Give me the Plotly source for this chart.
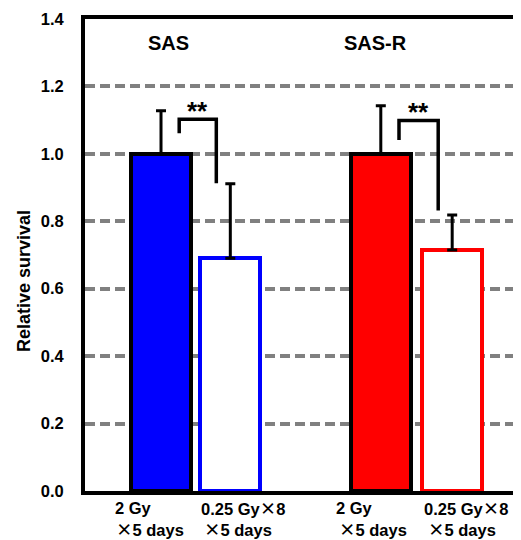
import plotly.graph_objects as go

# ---- data ----
groups = ["SAS", "SAS-R"]
treat_line1 = ["2 Gy", "0.25 Gy×8", "2 Gy", "0.25 Gy×8"]
treat_line2 = ["×5 days", "×5 days", "×5 days", "×5 days"]
survival = [1.0, 0.69, 1.0, 0.715]
sd_upper = [0.128, 0.221, 0.143, 0.104]
sig_labels = ["**", "**"]
sig_top = [1.103, 1.099]
sig_left_bottom = [1.061, 1.041]
sig_right_bottom = [0.913, 0.832]
yticks = [0.0, 0.2, 0.4, 0.6, 0.8, 1.0, 1.2, 1.4]
y_title = "Relative survival"

# ---- layout constants ----
pos = [1.0, 1.99, 4.14, 5.16]
fills = ["#0000FF", "#FFFFFF", "#FF0000", "#FFFFFF"]
edges = ["#000000", "#0000FF", "#000000", "#FF0000"]
FONT = "Liberation Sans, Arial, sans-serif"
XFONT = "Noto Sans CJK JP"

fig = go.Figure()
fig.add_trace(go.Bar(
    x=pos, y=survival, width=0.86,
    marker=dict(color=fills, line=dict(color=edges, width=4)),
    error_y=dict(type="data", symmetric=False, array=sd_upper,
                 arrayminus=[0] * len(sd_upper), color="black",
                 thickness=3, width=5),
    showlegend=False, hoverinfo="skip",
))

# significance brackets
for i in range(2):
    xl = pos[2 * i] + 0.26
    xr = pos[2 * i] + (0.79 if i == 0 else 0.82)
    fig.add_trace(go.Scatter(
        x=[xl, xl, xr, xr],
        y=[sig_left_bottom[i], sig_top[i], sig_top[i], sig_right_bottom[i]],
        mode="lines", line=dict(color="black", width=3.5),
        showlegend=False, hoverinfo="skip",
    ))
    fig.add_annotation(x=(xl + xr) / 2, y=sig_top[i], text="<b>" + sig_labels[i] + "</b>",
                       showarrow=False, yanchor="bottom", yshift=-9,
                       font=dict(family=FONT, size=26, color="black"))

# group labels
for i, g in enumerate(groups):
    fig.add_annotation(x=pos[2 * i] + (0.11 if i == 0 else -0.07), y=1.33, text="<b>" + g + "</b>",
                       showarrow=False, font=dict(family=FONT, size=20, color="black"))

# treatment labels (two lines each)
def fmt(s):
    return "<b>" + s.replace("×", '<span style="font-family:%s">×</span>' % XFONT) + "</b>"

shifts1 = [-48, -31, -47, -30]
shifts2 = [-47, -28, -44, -26]
for i in range(len(pos)):
    for txt, xs, ys in ((treat_line1[i], shifts1[i], -16.5), (treat_line2[i], shifts2[i], -38)):
        fig.add_annotation(x=pos[i], y=0, xref="x", yref="paper", text=fmt(txt),
                           showarrow=False, xanchor="left", yanchor="middle",
                           xshift=xs, yshift=ys,
                           font=dict(family=FONT, size=16.5, color="black"))

# y-axis title
fig.add_annotation(x=0, y=0.623, xref="paper", yref="y", text="<b>" + y_title + "</b>",
                   showarrow=False, textangle=-90, xanchor="center", yanchor="middle",
                   xshift=-61, font=dict(family=FONT, size=18, color="black"))

fig.update_layout(
    width=513, height=532,
    margin=dict(l=77, r=0, t=11, b=49),
    plot_bgcolor="white", paper_bgcolor="white",
    bargap=0,
)
fig.update_xaxes(range=[-0.086, 6.143], showticklabels=False, showgrid=False,
                 zeroline=False, showline=True, linecolor="black", linewidth=4,
                 mirror=True, ticks="")
fig.update_yaxes(range=[0, 1.4], tickvals=yticks, ticktext=["<b>%.1f</b>" % v for v in yticks],
                 showgrid=True, gridcolor="#808080", gridwidth=3.5, griddash="10px,5px",
                 zeroline=False, showline=True, linecolor="black", linewidth=4,
                 mirror=False, ticks="", ticklabelstandoff=14,
                 tickfont=dict(family=FONT, size=16.5, color="black"))

fig.write_html("out.html")
